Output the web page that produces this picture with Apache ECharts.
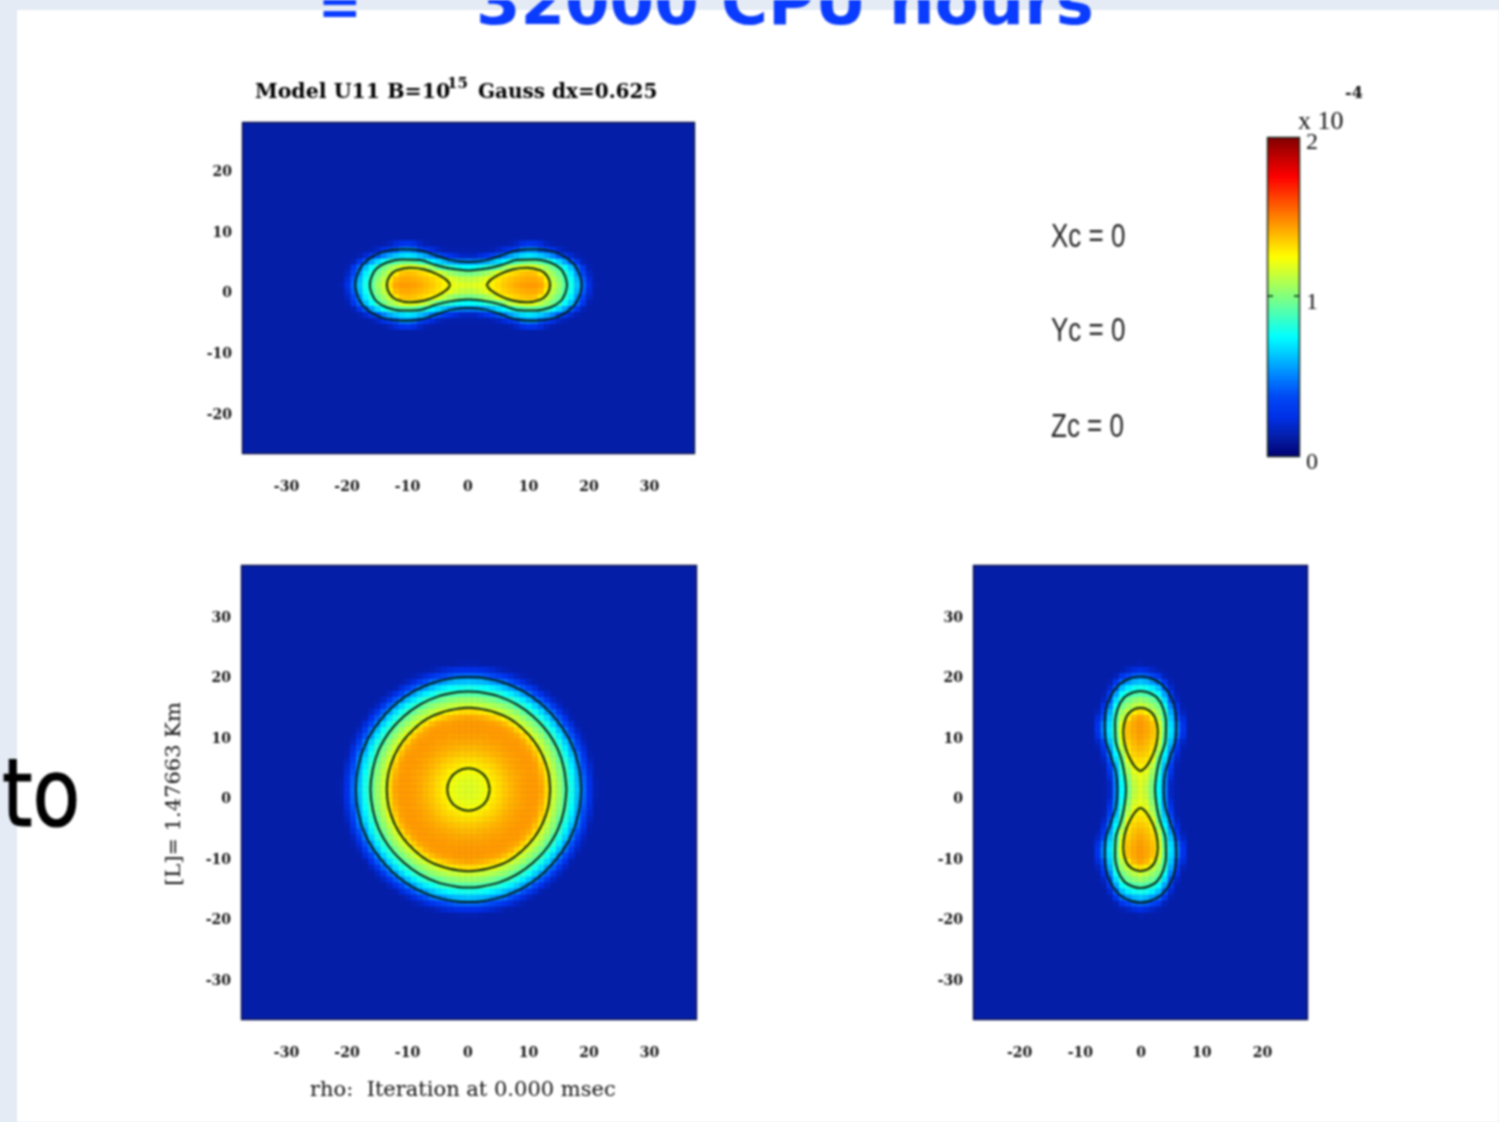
<!DOCTYPE html>
<html><head><meta charset="utf-8">
<script src="https://cdn.jsdelivr.net/npm/echarts@6/dist/echarts.min.js"></script>
<style>html,body{margin:0;padding:0;background:#e4ebf4;overflow:hidden}#c{width:1499px;height:1122px;filter:blur(1px)}</style>
</head><body><div id="c"></div>
<script>
// density in units of 1e-6 (colour bar is x 10^-4), one row per km off the mid-plane, one column per km off the axis
const rhoEquatorial = [
[118,119,120,123,128,132,136,139,142,144,145,145,143,132,115,105,92,80,63,45,25,14],
[119,119,121,124,128,132,136,139,142,144,145,145,142,132,115,105,92,79,62,44,25,14],
[120,121,122,126,130,133,137,140,142,144,145,145,141,130,114,103,91,78,61,43,24,13],
[123,124,126,128,132,135,138,141,143,144,145,144,139,128,112,101,89,76,59,40,22],
[128,128,130,132,134,137,140,142,144,145,145,144,136,123,109,98,86,72,55,37,20],
[132,132,133,135,137,139,141,143,144,145,145,142,132,117,106,94,83,68,51,32,17],
[136,136,137,138,140,141,143,144,145,145,144,138,126,112,102,90,78,62,46,27,14],
[139,139,140,141,142,143,144,145,145,144,141,132,117,107,97,86,72,56,39,22,13],
[142,142,142,143,144,144,145,145,145,142,134,123,111,102,90,80,65,49,31,17],
[144,144,144,144,145,145,145,144,142,135,126,113,105,94,84,71,56,40,23,14],
[145,145,145,145,145,145,144,141,134,126,114,106,97,87,77,62,47,31,17],
[145,145,145,144,144,142,138,132,123,113,106,98,89,79,66,52,37,22,13],
[143,142,141,139,136,132,126,117,111,105,97,89,80,68,55,41,25,14],
[132,132,130,128,123,117,112,107,102,94,87,79,68,56,43,28,17],
[115,115,114,112,109,106,102,97,90,84,77,66,55,43,29,18],
[105,105,103,101,98,94,90,86,80,71,62,52,41,28,18,13],
[92,92,91,89,86,83,78,72,65,56,47,37,25,17],
[80,79,78,76,72,68,62,56,49,40,31,22,14],
[63,62,61,59,55,51,46,39,31,23,17,13],
[45,44,43,40,37,32,27,22,17,14],
[25,25,24,22,20,17,14,13],
[14,14,13]
];
// one row per km off the equator, one column per km off the rotation axis
const rhoMeridional = [
[118,119,120,123,128,132,136,139,142,144,145,145,143,132,115,105,92,80,63,45,25,14],
[112,113,116,120,127,130,134,137,139,141,142,142,139,127,112,102,90,78,60,42,22],
[98,99,102,106,112,122,127,131,134,137,138,137,129,115,105,96,84,72,54,36,18],
[75,76,79,83,88,94,104,112,118,122,122,120,112,105,97,88,76,62,45,28,14],
[50,50,53,57,62,68,74,81,88,93,96,94,91,85,78,68,56,42,28,15],
[18,18,22,27,33,40,48,56,62,68,70,68,64,58,50,40,30,20,14],
[13,13,13,13,14,17,22,28,35,47,52,51,40,33,26,18,14],
[0,0,0,0,0,0,0,14,18,24,27,26,22,16,13],
];
const contourOuterMeridional = [[18.7,0],[18.4,1.6],[17.6,3.2],[16,4.6],[14,5.5],[11,5.9],[8,5.7],[5.5,4.9],[3,4.1],[0,3.8]];
const contourMiddleMeridional = [[16.3,0],[16,1.4],[15.2,2.7],[13.5,3.7],[11,4.2],[8,4.1],[5.5,3.3],[3,2.7],[0,2.4]];
const contourLobeMeridional = [[3,0],[3.6,0.8],[5.2,1.8],[7.4,2.6],[9.7,2.85],[11.9,2.4],[13,1.5],[13.5,0]];
const contourOuterEquatorial = [[18.6,0],[18.2,3.9],[17,7.6],[15,10.9],[12.4,13.8],[9.3,16.1],[5.7,17.7],[1.9,18.5],[0,18.6]];
const contourMiddleEquatorial = [[16.2,0],[15.8,3.4],[14.8,6.6],[13.1,9.5],[10.8,12],[8.1,14],[5,15.4],[1.7,16.1],[0,16.2]];
const contourInnerEquatorial = [[13.5,0],[13.2,2.8],[12.3,5.5],[10.9,7.9],[9,10],[6.8,11.7],[4.2,12.8],[1.4,13.4],[0,13.5]];
const contourCentreEquatorial = [[3.5,0],[3,1.8],[1.8,3],[0,3.5]];
const ticksWide = [-30,-20,-10,0,10,20,30];
const ticksMid = [-20,-10,0,10,20];
const colourBarTicks = [0,1,2];
const jet = ['#000070','#041ea8','#0030e8','#0048f4','#0080ff','#00c0ff','#00ffff','#40ffc0','#80ff80','#c0ff40','#ffff00','#ffc000','#ff8000','#ff4000','#ff0000','#c00000','#800000'];
const BACKGROUND_COLOUR = '#041ea8';

const LINE = '#06200f';
const cats = (a,b)=>{const r=[];for(let i=a;i<=b;i++)r.push(String(i));return r;};
function cells(table,xs,ys,swap){
  const out=[];
  xs.forEach((x,i)=>ys.forEach((y,j)=>{
    const a=Math.abs(+x),b=Math.abs(+y);
    const row=table[swap?a:b];const v=row&&row[swap?b:a];
    if(v) out.push([i,j,v/100]);
  }));
  return out;
}
function ringQuad(q){
  const r=[];
  q.forEach(p=>r.push([p[0],p[1]]));
  q.slice().reverse().slice(1).forEach(p=>r.push([-p[0],p[1]]));
  q.slice(1).forEach(p=>r.push([-p[0],-p[1]]));
  q.slice().reverse().slice(1).forEach(p=>r.push([p[0],-p[1]]));
  return r;
}
function lobe(q,sign){
  const r=q.map(p=>[sign*p[0],p[1]]);
  q.slice().reverse().slice(1).forEach(p=>r.push([sign*p[0],-p[1]]));
  return r;
}
const panels=[
 {g:{left:242,top:122,width:453,height:332},xc:cats(-37,37),yc:cats(-28,27),table:rhoMeridional,swap:false,
  xr:[-37.35,37.52],yr:[-26.39,28.3],ox:.08,oy:1.45,xt:ticksWide,yt:ticksMid,
  rings:[ringQuad(contourOuterMeridional),ringQuad(contourMiddleMeridional),lobe(contourLobeMeridional,1),lobe(contourLobeMeridional,-1)]},
 {g:{left:241,top:565,width:455,height:455},xc:cats(-37,37),yc:cats(-38,37),table:rhoEquatorial,swap:false,
  xr:[-37.52,37.69],yr:[-36.45,38.76],ox:.08,oy:1.65,xt:ticksWide,yt:ticksWide,
  rings:[contourOuterEquatorial,contourMiddleEquatorial,contourInnerEquatorial,contourCentreEquatorial].map(ringQuad)},
 {g:{left:973,top:565,width:335,height:455},xc:cats(-27,27),yc:cats(-38,37),table:rhoMeridional,swap:true,
  xr:[-27.68,27.51],yr:[-36.45,38.76],ox:-.08,oy:1.65,xt:ticksMid,yt:ticksWide,
  rings:[ringQuad(contourOuterMeridional),ringQuad(contourMiddleMeridional),lobe(contourLobeMeridional,1),lobe(contourLobeMeridional,-1)].map(r=>r.map(p=>[p[1],p[0]]))}
];
const tickFont={fontFamily:'DejaVu Serif',fontWeight:'bold',fontSize:14,color:'#111'};
const grid=[],xAxis=[],yAxis=[],series=[];
panels.forEach((p,i)=>{
  grid.push(Object.assign({show:true,backgroundColor:BACKGROUND_COLOUR,borderWidth:0},p.g));
  xAxis.push({type:'category',gridIndex:i,data:p.xc,show:false},
    {type:'value',gridIndex:i,min:p.xr[0],max:p.xr[1],position:'bottom',splitLine:{show:false},axisLine:{show:false},axisTick:{show:false},
     axisLabel:{customValues:p.xt,margin:26,...tickFont,formatter:v=>String(v)}});
  yAxis.push({type:'category',gridIndex:i,data:p.yc,show:false},
    {type:'value',gridIndex:i,min:p.yr[0],max:p.yr[1],position:'left',splitLine:{show:false},axisLine:{show:false},axisTick:{show:false},
     axisLabel:{customValues:p.yt,margin:10,...tickFont,formatter:v=>String(v)}});
  series.push({type:'heatmap',name:'rho panel '+(i+1),xAxisIndex:i*2,yAxisIndex:i*2,progressive:0,silent:true,
    data:cells(p.table,p.xc,p.yc,p.swap)});
});
panels.forEach((p,i)=>{
  p.rings.forEach((r,k)=>series.push({type:'line',name:'contour '+(i+1)+'-'+(k+1),xAxisIndex:i*2+1,yAxisIndex:i*2+1,
    showSymbol:false,smooth:.35,silent:true,z:5,lineStyle:{color:LINE,width:2},
    data:r.map(q=>[q[0]+p.ox,q[1]+p.oy])}));
});
// colour bar axis
grid.push({left:1267,top:137,width:33,height:320});
xAxis.push({type:'value',gridIndex:3,min:0,max:1,show:false});
yAxis.push({type:'value',gridIndex:3,min:0,max:2,position:'right',splitLine:{show:false},axisLine:{show:false},axisTick:{show:false},
  axisLabel:{customValues:colourBarTicks,margin:6,verticalAlign:'top',lineHeight:12,fontFamily:'Liberation Serif',fontSize:24,color:'#111',formatter:v=>String(v)}});

const frame=(l,t,w,h,c)=>({type:'rect',z:50,shape:{x:l+.5,y:t+.5,width:w-1,height:h-1},style:{fill:'none',stroke:c,lineWidth:1.4}});
const txt=(x,y,text,font,fill,extra)=>Object.assign({type:'text',z:60,x,y,style:Object.assign({text,font,fill,verticalAlign:'middle',align:'left'},(extra&&extra.st)||{})},extra&&extra.el||{});
const tick=(x1,x2,y)=>({type:'line',z:55,shape:{x1,y1:y,x2,y2:y},style:{stroke:'#0e3a18',lineWidth:1.6}});
const option={
  animation:false,backgroundColor:'transparent',
  grid,xAxis,yAxis,series,
  visualMap:{type:'continuous',min:0,max:2,left:1267,top:137,itemWidth:33,itemHeight:320,padding:0,calculable:false,hoverLink:false,
    seriesIndex:[0,1,2],inRange:{color:jet},text:null,textStyle:{color:'transparent'},z:3},
  graphic:{elements:[
    {type:'rect',z:-10,silent:true,shape:{x:17,y:10,width:1482,height:1112},style:{fill:'#ffffff'}},
    frame(242,122,453,332,'#0a1050'),frame(241,565,456,455,'#0a1050'),frame(973,565,335,455,'#0a1050'),frame(1267,137,33,320,'#1c2a20'),
    tick(1267,1273,296),tick(1294,1300,296),
    txt(255,93,'Model U11 B=10','bold 20.5px "DejaVu Serif"','#000'),
    txt(447,84,'15','bold 15px "DejaVu Serif"','#000'),
    txt(478,93,'Gauss dx=0.625','bold 20px "DejaVu Serif"','#000'),
    txt(310,1091,'rho:  Iteration at 0.000 msec','21px "DejaVu Serif"','#111'),
    {type:'text',z:60,x:175,y:794,rotation:Math.PI/2,style:{text:'[L]= 1.47663 Km',font:'21px "DejaVu Serif"',fill:'#111',align:'center',verticalAlign:'middle'}},
    txt(1051,238,'Xc = 0','26px "Liberation Sans"','#222',{el:{scaleY:1.25}}),
    txt(1051,332,'Yc = 0','26px "Liberation Sans"','#222',{el:{scaleY:1.25}}),
    txt(1051,428,'Zc = 0','26px "Liberation Sans"','#222',{el:{scaleY:1.25}}),
    txt(1298,122,'x 10','26px "Liberation Serif"','#111'),
    txt(1345,94,'-4','bold 16px "DejaVu Serif"','#111'),
    txt(2,802,'to','78px "DejaVu Sans"','#000',{el:{scaleY:1.2},st:{stroke:'#000',lineWidth:1}}),
    txt(318,10,'=','bold 52px "DejaVu Sans"','#0a3cff'),
    txt(476,7,'32000 CPU hours','bold 64px "DejaVu Sans"','#0a3cff')
  ]}
};
echarts.init(document.getElementById('c'),null,{renderer:'canvas'}).setOption(option);
</script></body></html>
